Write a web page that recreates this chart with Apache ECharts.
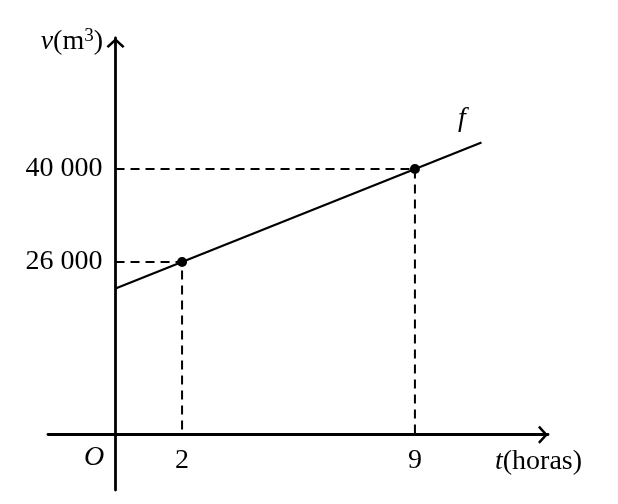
<!DOCTYPE html>
<html>
<head>
<meta charset="utf-8">
<script src="https://cdn.jsdelivr.net/npm/echarts@6/dist/echarts.min.js"></script>
<style>html,body{margin:0;padding:0;background:#fff;}#c{width:618px;height:504px;}</style>
</head>
<body>
<div id="c"></div>
<script>
// function f: line through its endpoints
const lineT = [0, 11];
const lineV = [22000, 44000];
// highlighted points
const pointT = [2, 9];
const pointV = [26000, 40000];
// tick labels
const xTickValues = [2, 9];
const yTickValues = [26000, 40000];
// axis ranges
const xRange = [-2.03, 13.0];
const yRange = [-8324, 59717];

const FONT = 'Liberation Serif';
const fmt = v => String(v).replace(/\B(?=(\d{3})+(?!\d))/g, ' ');
const arrowPath = 'path://M0,8.2 L9,0 L18,8.2 L16.2,10 L9,3.4 L1.8,10 Z';

const GRID = {left: 48, right: 70, top: 38, bottom: 14};
const W = 618, H = 504;
const gridW = W - GRID.left - GRID.right;
const gridH = H - GRID.top - GRID.bottom;
// move axes from grid edges to the zero lines
const xAxisOffset = -((0 - yRange[0]) / (yRange[1] - yRange[0])) * gridH;
const yAxisOffset = -((0 - xRange[0]) / (xRange[1] - xRange[0])) * gridW;

const chart = echarts.init(document.getElementById('c'), null, {renderer: 'canvas'});

const dashStyle = {color: '#000', width: 2, type: [9, 6]};
const rich = {
  i: {fontStyle: 'italic', fontFamily: FONT, fontSize: 28},
  n: {fontFamily: FONT, fontSize: 28},
  s: {fontFamily: FONT, fontSize: 19, verticalAlign: 'top', padding: [0, 0, 12, 0]}
};

chart.setOption({
  animation: false,
  backgroundColor: '#fff',
  grid: Object.assign({containLabel: false, outerBoundsMode: 'none'}, GRID),
  xAxis: {
    type: 'value', min: xRange[0], max: xRange[1], position: 'bottom', offset: xAxisOffset,
    axisLine: {show: true, onZero: false, lineStyle: {color: '#000', width: 2.8},
      symbol: ['none', arrowPath], symbolSize: [18, 10], symbolOffset: [0, -5]},
    axisTick: {show: false},
    splitLine: {show: false},
    axisLabel: {customValues: xTickValues, margin: 12, color: '#000', fontFamily: FONT, fontSize: 28,
      formatter: v => fmt(v)}
  },
  yAxis: {
    type: 'value', min: yRange[0], max: yRange[1], position: 'left', offset: yAxisOffset,
    axisLine: {show: true, onZero: false, lineStyle: {color: '#000', width: 2.8},
      symbol: ['none', arrowPath], symbolSize: [18, 10], symbolOffset: [0, -5]},
    axisTick: {show: false},
    splitLine: {show: false},
    axisLabel: {customValues: yTickValues, margin: 13, color: '#000', fontFamily: FONT, fontSize: 28,
      formatter: v => fmt(v)}
  },
  graphic: [
    {type: 'text', x: 103, y: 42, style: {text: '{i|v}{n|(m}{s|3}{n|)}', fill: '#000', font: '28px ' + FONT,
      textAlign: 'right', textVerticalAlign: 'middle', rich: rich}},
    {type: 'text', x: 495, y: 462, style: {text: '{i|t}{n|(horas)}', fill: '#000', font: '28px ' + FONT,
      textAlign: 'left', textVerticalAlign: 'middle', rich: rich}},
    {type: 'text', x: 94, y: 458, style: {text: 'O', fill: '#000', font: 'italic 28px ' + FONT,
      textAlign: 'center', textVerticalAlign: 'middle'}},
    {type: 'text', x: 462, y: 119, style: {text: 'f', fill: '#000', font: 'italic 28px ' + FONT,
      textAlign: 'center', textVerticalAlign: 'middle'}}
  ],
  series: [
    {type: 'line', silent: true, symbol: 'none', lineStyle: dashStyle,
      data: [[0, pointV[0]], [pointT[0], pointV[0]], [pointT[0], 0]]},
    {type: 'line', silent: true, symbol: 'none', lineStyle: dashStyle,
      data: [[0, pointV[1]], [pointT[1], pointV[1]], [pointT[1], 0]]},
    {type: 'line', silent: true, symbol: 'none', lineStyle: {color: '#000', width: 2.2},
      data: lineT.map((t, i) => [t, lineV[i]])},
    {type: 'scatter', silent: true, symbol: 'circle', symbolSize: 10,
      itemStyle: {color: '#000', opacity: 1},
      data: pointT.map((t, i) => [t, pointV[i]]), z: 5}
  ]
});
</script>
</body>
</html>
